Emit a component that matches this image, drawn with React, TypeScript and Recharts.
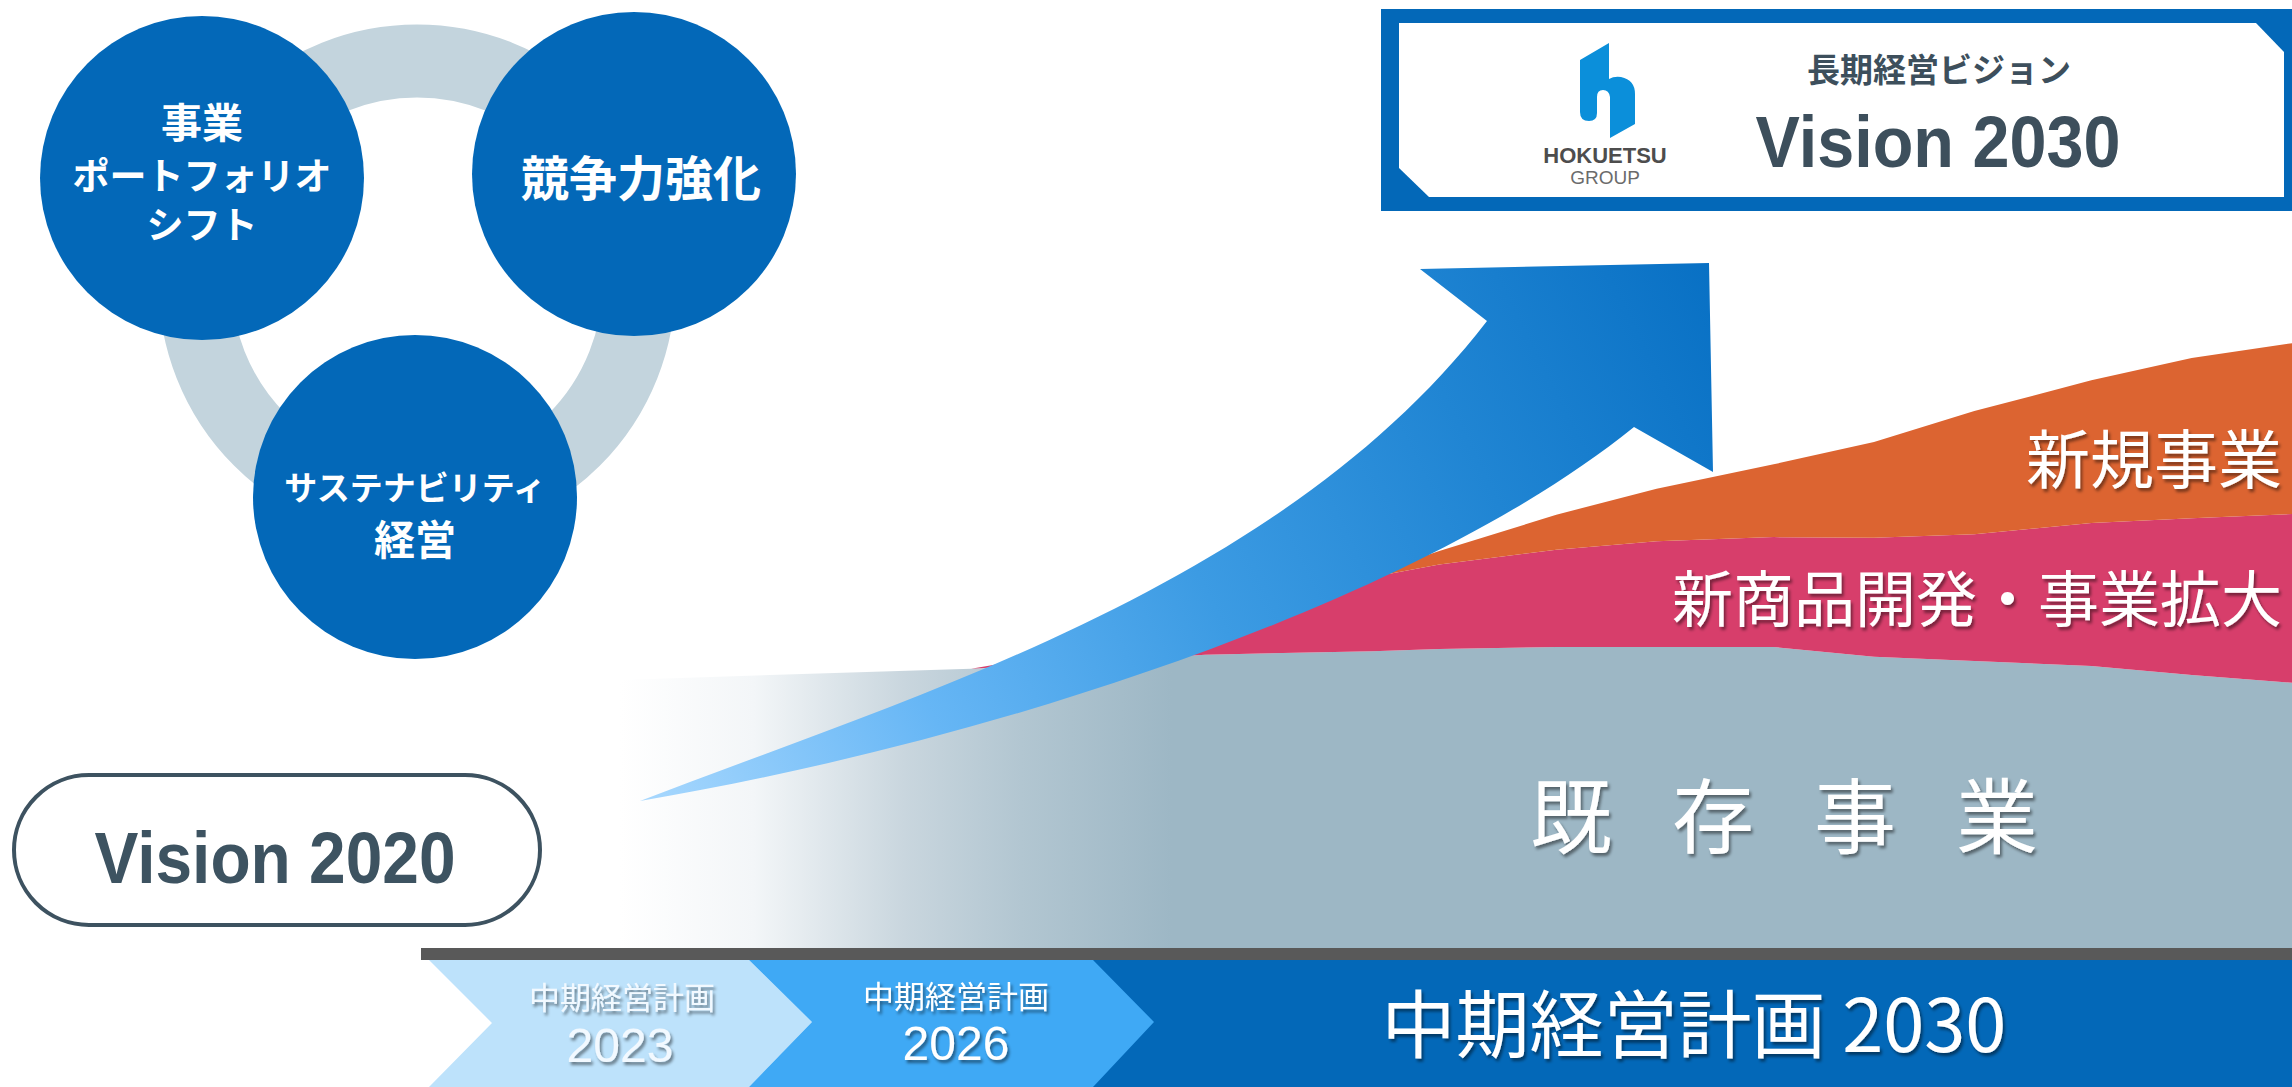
import React from 'react';
import { AreaChart, Area, XAxis, YAxis } from 'recharts';

// position along the timeline (0 = left end of the area, 100 = right edge)
const steps = [0, 21, 35, 45, 49, 56, 62, 69, 75, 81, 88, 94, 100];
// stacked series
const existingBiz = [38.3, 39.9, 41.9, 42.4, 42.7, 43.0, 43.0, 43.0, 41.6, 41.0, 40.3, 39.0, 37.9];
const expansionBiz = [0, 0, 3.6, 10.6, 12.1, 13.9, 15.1, 15.7, 17.0, 18.1, 20.4, 22.4, 24.1];
const newBiz = [0, 0, 0, 0.5, 1.9, 5.0, 7.5, 10.4, 13.7, 17.6, 20.4, 22.9, 24.4];

const seriesLabels = ['既存事業', '新商品開発・事業拡大', '新規事業'];
const pillars = [
  ['事業', 'ポートフォリオ', 'シフト'],
  ['競争力強化'],
  ['サステナビリティ', '経営'],
];
const planLabels = ['中期経営計画', '2023', '2026', '中期経営計画 2030'];

const data = steps.map((t, i) => ({
  t,
  existing: existingBiz[i],
  expansion: expansionBiz[i],
  newBiz: newBiz[i],
}));

const JP = '"Noto Sans CJK JP", "Noto Sans", sans-serif';
const LATIN = '"Liberation Sans", Arial, sans-serif';
const BLUE = '#0368b8';

const Background = () => (
  <svg width={2292} height={1087} style={{ position: 'absolute', left: 0, top: 0 }}>
    {/* ring behind the three pillars */}
    <circle cx={417} cy={283} r={222} fill="none" stroke="#c3d4dd" strokeWidth={73} />
    <circle cx={202} cy={178} r={162} fill={BLUE} />
    <circle cx={634} cy={174} r={162} fill={BLUE} />
    <circle cx={415} cy={497} r={162} fill={BLUE} />
    <g fill="#fff" fontFamily={JP} fontWeight={700} textAnchor="middle">
      <text x={202} y={138} fontSize={41}>{pillars[0][0]}</text>
      <text x={202} y={190} fontSize={37}>{pillars[0][1]}</text>
      <text x={202} y={239} fontSize={37}>{pillars[0][2]}</text>
      <text x={641} y={196} fontSize={48}>{pillars[1][0]}</text>
      <text x={415} y={500} fontSize={33}>{pillars[2][0]}</text>
      <text x={415} y={555} fontSize={41}>{pillars[2][1]}</text>
    </g>

    {/* Vision 2020 */}
    <rect x={14} y={775} width={526} height={150} rx={75} fill="#fff" stroke="#3d5260" strokeWidth={4} />
    <text x={275} y={883} fontFamily={LATIN} fontWeight={700} fontSize={72} fill="#3d5361"
      textAnchor="middle" textLength={361} lengthAdjust="spacingAndGlyphs">Vision 2020</text>

    {/* Vision 2030 box */}
    <rect x={1381} y={9} width={911} height={202} fill={BLUE} />
    <polygon points="1399,23 2256,23 2284,52 2284,197 1429,197 1399,168" fill="#fff" />
    <path d="M1580,60 L1609,43 L1609,79 Q1614,76 1621,77 Q1635,80 1635,94 L1635,124 L1610,138 L1610,97 Q1609,90 1603,90 Q1597,90 1597,97 L1597,113 Q1597,121 1589,121 Q1580,121 1580,112 Z" fill="#0b8fda" />
    <text x={1605} y={163} fontFamily={LATIN} fontWeight={700} fontSize={22} fill="#4d4d4d" textAnchor="middle">HOKUETSU</text>
    <text x={1605} y={184} fontFamily={LATIN} fontSize={19} fill="#6b6b6b" textAnchor="middle">GROUP</text>
    <text x={1939} y={82} fontFamily={JP} fontWeight={700} fontSize={33} fill="#3d4f5c" textAnchor="middle">長期経営ビジョン</text>
    <text x={1938} y={167} fontFamily={LATIN} fontWeight={700} fontSize={72} fill="#3d4f5c"
      textAnchor="middle" textLength={365} lengthAdjust="spacingAndGlyphs">Vision 2030</text>

    {/* timeline band */}
    <rect x={421} y={948} width={1871} height={12} fill="#595959" />
    <rect x={1093} y={960} width={1199} height={127} fill={BLUE} />
    <polygon points="429,960 749,960 812,1022 749,1087 429,1087 492,1023" fill="#bde2fb" />
    <polygon points="749,960 1093,960 1154,1022 1093,1087 749,1087 812,1022" fill="#3fa9f5" />
  </svg>
);

const Overlay = () => (
  <svg width={2292} height={1087} style={{ position: 'absolute', left: 0, top: 0, pointerEvents: 'none' }}>
    <defs>
      <linearGradient id="arrowGrad" gradientUnits="userSpaceOnUse" x1={640} y1={801} x2={1713} y2={263}>
        <stop offset="0" stopColor="#a8d8fe" />
        <stop offset="0.25" stopColor="#66b6f5" />
        <stop offset="0.5" stopColor="#3c9be3" />
        <stop offset="0.75" stopColor="#2085d3" />
        <stop offset="1" stopColor="#0870c4" />
      </linearGradient>
      <filter id="txtShadow" x="-10%" y="-20%" width="120%" height="150%">
        <feDropShadow dx={2} dy={3} stdDeviation={1.5} floodColor="#000" floodOpacity={0.45} />
      </filter>
    </defs>
    <path
      d="M640,801 C900,700 1280,590 1487,321 L1420,269 L1709,263 L1713,472 L1634,427 C1420,600 1000,740 640,801 Z"
      fill="url(#arrowGrad)"
    />
    <g fill="#fff" fontFamily={JP} filter="url(#txtShadow)">
      <text x={2282} y={483} fontSize={64} textAnchor="end">{seriesLabels[2]}</text>
      <text x={2282} y={622} fontSize={61} textAnchor="end">{seriesLabels[1]}</text>
      <text x={1530} y={847} fontSize={82} letterSpacing={60}>{seriesLabels[0]}</text>
    </g>
    <g fontFamily={JP} textAnchor="middle" filter="url(#txtShadow)">
      <text x={622} y={1009} fontSize={31} fill="#f2f9ff">{planLabels[0]}</text>
      <text x={620} y={1062} fontSize={48} fill="#f2f9ff" fontFamily={LATIN}>{planLabels[1]}</text>
      <text x={956} y={1008} fontSize={31} fill="#fff">{planLabels[0]}</text>
      <text x={956} y={1060} fontSize={48} fill="#fff" fontFamily={LATIN}>{planLabels[2]}</text>
      <text x={1694} y={1052} fontSize={74} fill="#fff">{planLabels[3]}</text>
    </g>
  </svg>
);

export default function App() {
  return (
    <div style={{ position: 'absolute', left: 0, top: 0, width: 2292, height: 1087, overflow: 'hidden', background: '#fff' }}>
      <Background />
      <div style={{ position: 'absolute', left: 0, top: 0 }}>
        <AreaChart width={2292} height={1087} data={data} margin={{ top: 248, right: 0, bottom: 139, left: 620 }}>
          <defs>
            <linearGradient id="grayFade" x1="0" y1="0" x2="1" y2="0">
              <stop offset="0" stopColor="#ffffff" />
              <stop offset="0.08" stopColor="#f3f6f8" />
              <stop offset="0.17" stopColor="#c9d6de" />
              <stop offset="0.24" stopColor="#b2c6d1" />
              <stop offset="0.33" stopColor="#9db7c5" />
              <stop offset="1" stopColor="#9db7c5" />
            </linearGradient>
          </defs>
          <XAxis type="number" dataKey="t" domain={[0, 100]} hide />
          <YAxis type="number" domain={[0, 100]} hide />
          <Area type="linear" dataKey="existing" name={seriesLabels[0]} stackId="a" stroke="none" fill="url(#grayFade)" fillOpacity={1} isAnimationActive={false} />
          <Area type="linear" dataKey="expansion" name={seriesLabels[1]} stackId="a" stroke="none" fill="#d73e6b" fillOpacity={1} isAnimationActive={false} />
          <Area type="linear" dataKey="newBiz" name={seriesLabels[2]} stackId="a" stroke="none" fill="#dc6431" fillOpacity={1} isAnimationActive={false} />
        </AreaChart>
      </div>
      <Overlay />
    </div>
  );
}
